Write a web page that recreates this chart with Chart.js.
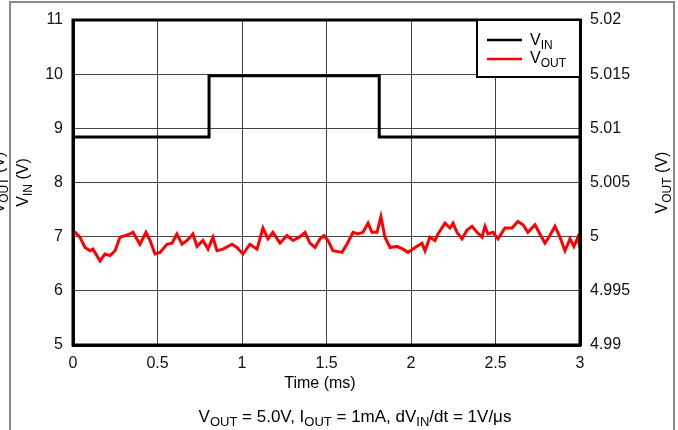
<!DOCTYPE html>
<html>
<head>
<meta charset="utf-8">
<script src="https://cdn.jsdelivr.net/npm/chart.js@4/dist/chart.umd.min.js"></script>
<style>
  html, body { margin: 0; padding: 0; background: #fff; }
  #wrap { position: relative; width: 678px; height: 430px; }
</style>
</head>
<body>
<div id="wrap"><canvas id="c" width="678" height="430"></canvas></div>
<script>
// VIN step (ms / V)
const vinTime = [0, 0.805, 0.805, 1.812, 1.812, 3];
const vinVolts = [8.84, 8.84, 9.97, 9.97, 8.84, 8.84];

// VOUT ripple (ms / V)
const voutTime = [
    0, 0.012, 0.041, 0.071, 0.101, 0.118, 0.160, 0.189, 0.219, 0.249,
    0.278, 0.308, 0.337, 0.355, 0.396, 0.432, 0.456, 0.485, 0.515, 0.556,
    0.586, 0.615, 0.645, 0.675, 0.710, 0.734, 0.769, 0.799, 0.828, 0.852,
    0.888, 0.941, 0.970, 1.006, 1.047, 1.089, 1.124, 1.154, 1.183, 1.225,
    1.266, 1.302, 1.343, 1.373, 1.402, 1.432, 1.462, 1.485, 1.509, 1.538,
    1.592, 1.621, 1.657, 1.686, 1.716, 1.746, 1.769, 1.799, 1.822, 1.846,
    1.876, 1.917, 1.953, 1.982, 2.024, 2.065, 2.083, 2.112, 2.142, 2.160,
    2.201, 2.231, 2.249, 2.272, 2.302, 2.331, 2.361, 2.391, 2.420, 2.438,
    2.456, 2.485, 2.515, 2.556, 2.598, 2.633, 2.663, 2.692, 2.734, 2.763,
    2.793, 2.822, 2.852, 2.882, 2.911, 2.941, 2.964, 2.988, 3.0
];
const voutVolts = [
    5.0005, 5.0004, 4.99995, 4.999, 4.9987, 4.99885, 4.99775, 4.9984, 4.99825, 4.9987,
    4.99995, 5.0001, 5.00025, 5.0004, 4.9993, 5.0004, 4.99965, 4.9984, 4.99855, 4.9993,
    4.9994, 5.00025, 4.9993, 4.99965, 5.00025, 4.9991, 4.99965, 4.99885, 4.99995, 4.9987,
    4.99885, 4.9993, 4.999, 4.9984, 4.9993, 4.99885, 5.0008, 4.9998, 5.0004, 4.9994,
    5.0001, 4.99965, 5.0, 5.0004, 4.9994, 4.999, 4.9998, 5.0001, 4.99965, 4.9987,
    4.99855, 4.9993, 5.0004, 5.00025, 5.0004, 5.00125, 5.0004, 5.0004, 5.00185, 4.99995,
    4.999, 4.9991, 4.99885, 4.99855, 4.999, 4.9994, 4.9987, 4.99995, 4.99965, 5.00025,
    5.00125, 5.0008, 5.00125, 5.0004, 4.9998, 5.0006, 5.00095, 5.0004, 4.99995, 5.00095,
    5.00025, 5.0004, 4.9998, 5.0008, 5.0008, 5.0014, 5.0011, 5.0004, 5.0011, 5.00025,
    4.9994, 5.0001, 5.00095, 4.99995, 4.9987, 4.9998, 4.9991, 4.99995, 4.999
];

// tick labels
const xTicks = [0, 0.5, 1, 1.5, 2, 2.5, 3];
const yLeftTicks = [5, 6, 7, 8, 9, 10, 11];
const yRightTicks = [4.99, 4.995, 5, 5.005, 5.01, 5.015, 5.02];
const yRightLabels = ['4.99', '4.995', '5', '5.005', '5.01', '5.015', '5.02'];

const FONT = '"Liberation Sans", Arial, sans-serif';

// draw text made of [text, isSub] pieces
function drawRich(ctx, parts, x, y, size, align) {
    const subSize = Math.round(size * 0.75);
    let total = 0;
    const widths = parts.map(p => {
        ctx.font = (p[1] ? subSize : size) + 'px ' + FONT;
        const w = ctx.measureText(p[0]).width;
        total += w;
        return w;
    });
    let cx = align === 'center' ? x - total / 2 : (align === 'right' ? x - total : x);
    ctx.textAlign = 'left';
    ctx.textBaseline = 'alphabetic';
    parts.forEach((p, i) => {
        ctx.font = (p[1] ? subSize : size) + 'px ' + FONT;
        ctx.fillText(p[0], cx, p[1] ? y + size * 0.22 : y);
        cx += widths[i];
    });
}

const decorPlugin = {
    id: 'decor',
    afterDraw(chart) {
        const ctx = chart.ctx;
        const a = chart.chartArea;
        ctx.save();

        // plot frame
        ctx.strokeStyle = '#000';
        ctx.lineWidth = 3;
        ctx.strokeRect(a.left, a.top, a.right - a.left, a.bottom - a.top);

        // legend box
        const lx = 477, ly = a.top, lw = a.right - 477, lh = 57;
        ctx.fillStyle = '#fff';
        ctx.fillRect(lx, ly, lw, lh);
        ctx.lineWidth = 2;
        ctx.strokeRect(lx, ly, lw, lh);
        ctx.lineWidth = 2.5;
        ctx.strokeStyle = '#000';
        ctx.beginPath(); ctx.moveTo(487, 40); ctx.lineTo(522, 40); ctx.stroke();
        ctx.strokeStyle = '#ff0000';
        ctx.beginPath(); ctx.moveTo(487, 59); ctx.lineTo(522, 59); ctx.stroke();
        ctx.fillStyle = '#000';
        drawRich(ctx, [['V', false], ['IN', true]], 530, 45, 16, 'left');
        drawRich(ctx, [['V', false], ['OUT', true]], 530, 63, 16, 'left');

        // axis titles
        const midY = (a.top + a.bottom) / 2;
        ctx.save();
        ctx.translate(28, midY);
        ctx.rotate(-Math.PI / 2);
        drawRich(ctx, [['V', false], ['IN', true], [' (V)', false]], 0, 0, 16, 'center');
        ctx.restore();

        ctx.save();
        ctx.translate(4, midY);
        ctx.rotate(-Math.PI / 2);
        drawRich(ctx, [['V', false], ['OUT', true], [' (V)', false]], 0, 0, 16, 'center');
        ctx.restore();

        ctx.save();
        ctx.translate(667, midY);
        ctx.rotate(-Math.PI / 2);
        drawRich(ctx, [['V', false], ['OUT', true], [' (V)', false]], 0, 0, 16, 'center');
        ctx.restore();

        ctx.font = '16px ' + FONT;
        ctx.textAlign = 'center';
        ctx.textBaseline = 'middle';
        ctx.fillText('Time (ms)', 320, 384);

        drawRich(ctx, [['V', false], ['OUT', true], [' = 5.0V, I', false], ['OUT', true],
            [' = 1mA, dV', false], ['IN', true], ['/dt = 1V/\u03bcs', false]], 355, 422, 17, 'center');

        // page frame
        ctx.fillStyle = '#ffffff';
        ctx.fillRect(0, 0, 9, 2);
        ctx.strokeStyle = '#8a8a8a';
        ctx.lineWidth = 2;
        ctx.beginPath();
        ctx.moveTo(10, 430); ctx.lineTo(10, 2); ctx.lineTo(674, 2); ctx.lineTo(674, 430);
        ctx.stroke();
        ctx.restore();
    }
};

const gridOpts = { color: '#444', lineWidth: 1, drawTicks: false };
const tickFont = { family: FONT, size: 16 };

new Chart(document.getElementById('c'), {
    type: 'line',
    data: {
        datasets: [
            {
                label: 'VIN',
                data: vinTime.map((t, i) => ({ x: t, y: vinVolts[i] })),
                yAxisID: 'y',
                borderColor: '#000',
                borderWidth: 3,
                pointRadius: 0,
                tension: 0
            },
            {
                label: 'VOUT',
                data: voutTime.map((t, i) => ({ x: t, y: voutVolts[i] })),
                yAxisID: 'y2',
                borderColor: '#ff0000',
                borderWidth: 3,
                pointRadius: 0,
                tension: 0
            }
        ]
    },
    options: {
        responsive: false,
        animation: false,
        layout: { padding: { top: 20, left: 0, right: 0, bottom: 0 } },
        plugins: { legend: { display: false }, tooltip: { enabled: false } },
        scales: {
            x: {
                type: 'linear',
                min: 0, max: 3,
                afterBuildTicks: s => { s.ticks = xTicks.map(v => ({ value: v })); },
                afterFit: s => { s.height = 85; },
                grid: gridOpts,
                border: { color: '#000', width: 3 },
                ticks: { color: '#111', font: tickFont, padding: 9, maxRotation: 0,
                    callback: v => String(v) }
            },
            y: {
                position: 'left',
                min: 5, max: 11,
                afterBuildTicks: s => { s.ticks = yLeftTicks.map(v => ({ value: v })); },
                afterFit: s => { s.width = 73; },
                grid: gridOpts,
                border: { color: '#000', width: 3 },
                ticks: { color: '#111', font: tickFont, padding: 10 }
            },
            y2: {
                position: 'right',
                min: 4.99, max: 5.02,
                afterBuildTicks: s => { s.ticks = yRightTicks.map(v => ({ value: v })); },
                afterFit: s => { s.width = 98; },
                grid: { display: false, drawTicks: false },
                border: { color: '#000', width: 3 },
                ticks: { color: '#111', font: tickFont, padding: 10,
                    callback: (v, i) => yRightLabels[i] }
            }
        }
    },
    plugins: [decorPlugin]
});
</script>
</body>
</html>
